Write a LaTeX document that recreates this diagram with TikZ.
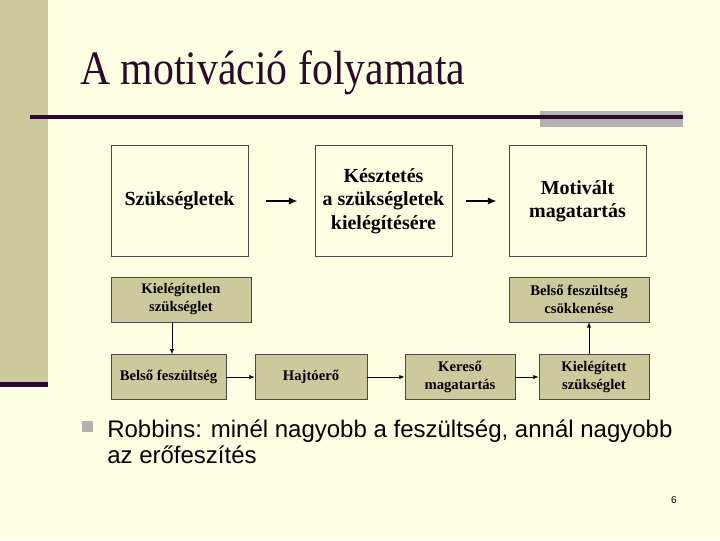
\documentclass[tikz,border=0pt]{standalone}
\usepackage{fontspec}
\setmainfont{Liberation Serif}
\setsansfont{Liberation Sans}
\usetikzlibrary{arrows.meta}

\definecolor{slidebg}{HTML}{FFFFE3}
\definecolor{olive}{HTML}{CCC99D}
\definecolor{darkplum}{HTML}{2B0A2B}
\definecolor{bargray}{HTML}{B2B2B2}
\definecolor{framegray}{HTML}{4A4A40}

\tikzset{
  bigbox/.style={draw=framegray, line width=0.6pt, fill=slidebg, minimum width=102.75pt,
    minimum height=83.25pt, inner sep=0pt, align=center, font=\bfseries\fontsize{15}{17.6}\selectfont},
  stepbox/.style={draw=framegray, line width=0.5pt, fill=olive, minimum height=33.5pt,
    inner sep=0pt, align=center, font=\bfseries\fontsize{11}{13.5}\selectfont},
  flow/.style={-{Latex[length=4pt,width=3.2pt]}, line width=0.6pt},
  bigflow/.style={-{Latex[length=6.5pt,width=5.5pt]}, line width=1.6pt},
}

\begin{document}
\begin{tikzpicture}[x=0.75pt, y=-0.75pt]
    \useasboundingbox (0,0) rectangle (720,540);
    \fill[slidebg] (0,0) rectangle (720,540);
    \fill[olive] (0,0) rectangle (48,382);
    \fill[darkplum] (0,382) rectangle (48,387);

    % title and rule
    \node[anchor=base west, inner sep=0pt, text=darkplum, xscale=0.87, transform shape,
      font=\fontsize{36}{36}\selectfont] (title) at (80,84) {A motiváció folyamata};
    \fill[bargray] (540,111) rectangle (683,127);
    \draw[darkplum, line width=2.4pt] (30,117) -- (683,117);

    % top row
    \node[bigbox] (needs) at (179.5,201) {Szükségletek};
    \node[bigbox] (urge) at (383.5,201) {Késztetés\\a szükségletek\\kielégítésére};
    \node[bigbox] (behaviour) at (577.5,201) {Motivált\\magatartás};
    \draw[bigflow, shorten <=13.5pt, shorten >=12.75pt] (needs) -- (urge);
    \draw[bigflow, shorten <=10.5pt, shorten >=9pt] (urge) -- (behaviour);

    % cycle
    \node[stepbox, minimum width=105pt] (unmet) at (181,299.5) {Kielégítetlen\\szükséglet};
    \node[stepbox, minimum width=105pt] (relief) at (579,299.5) {Belső feszültség\\csökkenése};
    \node[stepbox, minimum width=86.25pt] (tension) at (168.5,377) {Belső feszültség};
    \node[stepbox, minimum width=84pt] (drive) at (311,377) {Hajtóerő};
    \node[stepbox, minimum width=82.5pt] (search) at (460,377) {Kereső\\magatartás};
    \node[stepbox, minimum width=82.5pt] (met) at (594,377) {Kielégített\\szükséglet};

    \draw[flow] ([xshift=2.6pt]tension.north |- unmet.south) -- ([xshift=2.6pt]tension.north);
    \draw[flow] (tension) -- (drive);
    \draw[flow] (drive) -- (search);
    \draw[flow] (search) -- (met);
    \draw[flow] ([xshift=-3.75pt]met.north) -- ([xshift=-3.75pt]met.north |- relief.south);

    % bullet
    \fill[bargray] (82,421) rectangle (93,432);
    \node[anchor=base west, inner sep=0pt, align=left, font=\sffamily\fontsize{18}{19.5}\selectfont]
      (quote) at (107,463) {Robbins: minél nagyobb a feszültség, annál nagyobb\\az erőfeszítés};
    \node[font=\sffamily\fontsize{7.5}{9}\selectfont] (page) at (674,500) {6};
\end{tikzpicture}
\end{document}
